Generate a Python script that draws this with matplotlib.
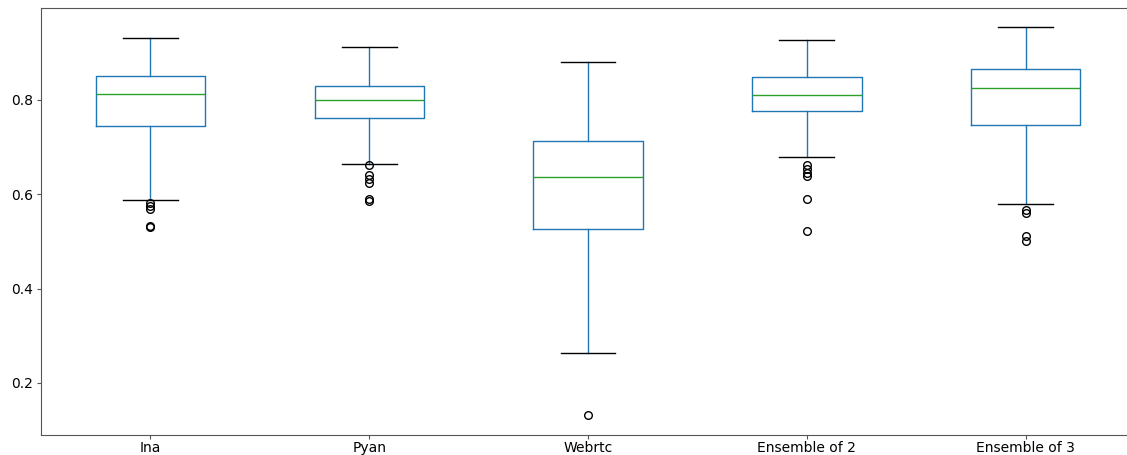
import matplotlib
matplotlib.use("Agg")
import matplotlib.pyplot as plt

# Per-method score distributions (five-number summaries plus outliers)
methods = ["Ina", "Pyan", "Webrtc", "Ensemble of 2", "Ensemble of 3"]
q1 = [0.745, 0.762, 0.526, 0.777, 0.747]
medians = [0.813, 0.800, 0.636, 0.811, 0.826]
q3 = [0.851, 0.830, 0.713, 0.849, 0.865]
whisker_low = [0.588, 0.664, 0.263, 0.6785, 0.5794]
whisker_high = [0.9315, 0.912, 0.881, 0.927, 0.954]
outliers = [
    [0.581, 0.575, 0.568, 0.533, 0.531],
    [0.662, 0.641, 0.632, 0.623, 0.589, 0.586],
    [0.132],
    [0.662, 0.654, 0.645, 0.639, 0.590, 0.522],
    [0.566, 0.561, 0.512, 0.501],
]

stats = []
for i, name in enumerate(methods):
    stats.append(dict(label=name, q1=q1[i], med=medians[i], q3=q3[i],
                      whislo=whisker_low[i], whishi=whisker_high[i],
                      fliers=outliers[i]))

plt.rcParams["font.size"] = 10
fig = plt.figure(figsize=(11.27, 4.55), dpi=100)
ax = fig.add_axes([41 / 1127, 1 - 435 / 455, 1094 / 1127, 427 / 455])

ax.bxp(stats, widths=0.5, patch_artist=False,
       boxprops=dict(color="#1f77b4"),
       whiskerprops=dict(color="#1f77b4"),
       medianprops=dict(color="#2ca02c"),
       capprops=dict(color="k"),
       flierprops=dict(marker="o", markerfacecolor="none",
                       markeredgecolor="k", markersize=5.5))

ax.set_ylim(0.0895, 0.995)
ax.set_xlim(0.5, 5.5)
ax.set_yticks([0.2, 0.4, 0.6, 0.8])
ax.tick_params(length=3, pad=3, colors="#555555", labelcolor="black")
ax.tick_params(axis="x", pad=1.5)
for spine in ax.spines.values():
    spine.set_color("#555555")

fig.savefig("out.png", dpi=100)
